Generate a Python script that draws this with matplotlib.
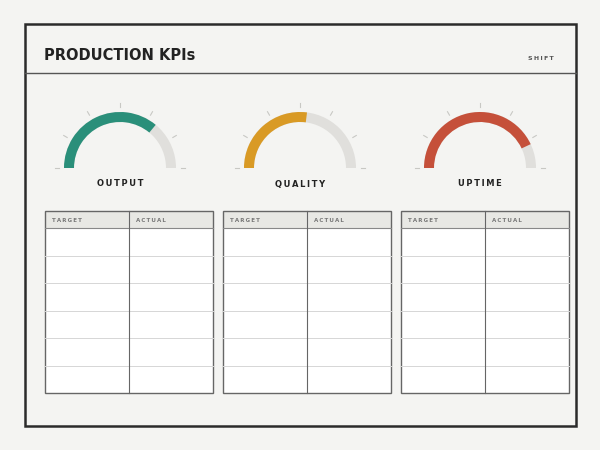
import matplotlib
matplotlib.use("Agg")
import matplotlib.pyplot as plt
from matplotlib.patches import Wedge, Rectangle
import numpy as np

kpis = ["OUTPUT", "QUALITY", "UPTIME"]
values = [0.72, 0.54, 0.86]
colors = ["#2a8f7a", "#d99a25", "#c5503a"]
columns = ["TARGET", "ACTUAL"]
n_rows = 6

def spaced(s):
    return "\u2009".join(s)

fig = plt.figure(figsize=(6, 4.5), dpi=100, facecolor="#f4f4f2")
ax = fig.add_axes([0, 0, 1, 1])
ax.set_xlim(0, 600); ax.set_ylim(450, 0); ax.axis("off")

ax.add_patch(Rectangle((25, 24), 551, 402, fill=False, ec="#2b2b2b", lw=1.8))
ax.plot([25, 576], [73, 73], color="#555555", lw=1)
ax.text(44, 55, "PRODUCTION KPIs", fontsize=10.5, fontweight="heavy", color="#222222", va="center")
ax.text(554, 58, spaced("SHIFT"), fontsize=4.5, fontweight="bold", color="#555555", va="center", ha="right")

centers = [120, 300, 480]
cy = 168
for cx, name, v, c in zip(centers, kpis, values, colors):
    ax.add_patch(Wedge((cx, cy), 56, 180, 360, width=10, fc="#e0dfdc", ec="none"))
    ax.add_patch(Wedge((cx, cy), 56, 180, 180 + 180 * v, width=10, fc=c, ec="none"))
    for a in np.arange(0, 181, 30):
        t = np.radians(a)
        ax.plot([cx + 61 * np.cos(t), cx + 65 * np.cos(t)],
                [cy - 61 * np.sin(t), cy - 65 * np.sin(t)], color="#c8c8c4", lw=0.8)
    ax.text(cx, 184, spaced(name), fontsize=6, fontweight="heavy",
            ha="center", va="center", color="#222222")

lefts = [45, 223, 401]
w, top, hh, bottom = 168, 211, 17, 393
rh = (bottom - top - hh) / n_rows
for x in lefts:
    ax.add_patch(Rectangle((x, top), w, hh, fc="#e8e8e4", ec="none"))
    ax.add_patch(Rectangle((x, top + hh), w, bottom - top - hh, fc="white", ec="none"))
    for i in range(1, n_rows):
        y = top + hh + i * rh
        ax.plot([x, x + w], [y, y], color="#d6d6d6", lw=0.7)
    ax.plot([x, x + w], [top + hh, top + hh], color="#888888", lw=0.8)
    ax.add_patch(Rectangle((x, top), w, bottom - top, fill=False, ec="#666666", lw=1))
    ax.plot([x + w / 2, x + w / 2], [top, bottom], color="#666666", lw=0.8)
    for j, col in enumerate(columns):
        ax.text(x + 7 + j * w / 2, top + hh / 2 + 1, spaced(col), fontsize=4, fontweight="bold",
                color="#777777", va="center")

fig.savefig("out.png", dpi=100, facecolor=fig.get_facecolor())
